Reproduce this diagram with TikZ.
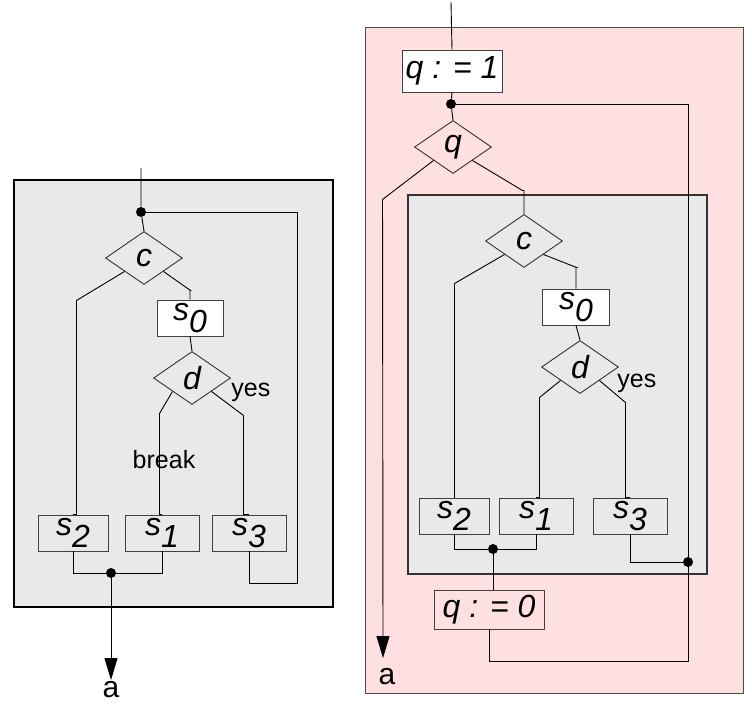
\documentclass[tikz,border=0pt]{standalone}
\usepackage{fontspec}
\setmainfont{Liberation Sans}
\usetikzlibrary{arrows.meta}
\usetikzlibrary{positioning}
\usetikzlibrary{shapes.geometric}

\definecolor{loopgray}{RGB}{233,233,233}
\definecolor{flagpink}{RGB}{255,224,224}

% statement name with its (lowered) index
\newcommand{\stmt}[2]{#1\raisebox{-0.38em}{#2}}

\begin{document}
\begin{tikzpicture}[x=1pt,y=-1pt,line width=0.9pt,>={Triangle[length=22pt,width=13pt]},
  box/.style={draw=black!75, minimum height=36pt, inner sep=0pt,
    font=\fontsize{32}{32}\selectfont\itshape},
  test/.style={draw=black!80, diamond, aspect=1.45, minimum width=77pt,
    minimum height=53pt, inner sep=0pt, font=\fontsize{32}{32}\selectfont\itshape},
  dot/.style={circle, fill, inner sep=0pt, minimum size=10pt},
  remark/.style={inner sep=0pt, font=\fontsize{25}{25}\selectfont}]
  \useasboundingbox (0,0) rectangle (752,704);

  % loop with break
  \filldraw[fill=loopgray, draw=black, line width=2.6pt] (14,180) rectangle (333,607);
  \coordinate (lin) at (141,168);
  \node[dot] (ldot) at (141,212) {};
  \node[test] (lc) at (144,258) {c};
  \node[box, fill=white, minimum width=66pt] (ls0) at (190,318) {\stmt{s}{0}};
  \node[test] (ld) at (192,378) {d};
  \node[remark, anchor=base west] (lyes) at (231,396) {yes};
  \node[remark, anchor=base] (lbreak) at (164,468) {break};
  \node[box, minimum width=70pt] (ls2) at (73,533) {\stmt{s}{2}};
  \node[box, minimum width=74pt] (ls1) at (162,533) {\stmt{s}{1}};
  \node[box, minimum width=74pt] (ls3) at (249,533) {\stmt{s}{3}};
  \node[dot] (ljoin) at (111,573) {};
  \coordinate (lback) at (297,583);
  \coordinate (la) at (111,680);
  \node[below=1pt of la, inner sep=0pt, font=\fontsize{30}{30}\selectfont] (lalabel) {a};

  \draw (lin) -- (ldot) -- (lc.north);
  \draw (lc.south west) -- ++(-48,29) |- (ls2.north);
  \draw (lc.south east) -- ++(27,19) -| (ls0.north);
  \draw (ls0.south) -- (ld.north);
  \draw (ld.south west) -- ++(-13,22) |- (ls1.north);
  \draw (ld.south east) -- ++(32,24) |- (ls3.north);
  \draw (ls2.south) |- (ljoin) -| (ls1.south);
  \draw[->] (ljoin) -- (la);
  \draw (ls3.south) |- (lback) |- (ldot);

  % the same loop with a flag q
  \filldraw[fill=flagpink, draw=black!70] (365,27) rectangle (743,693);
  \filldraw[fill=loopgray, draw=black!80, line width=1.4pt] (408,195) rectangle (707,574);
  \coordinate (rin) at (451,2);
  \node[box, fill=white, minimum width=100pt, minimum height=42pt] (rq1) at (452,71) {q : = 1};
  \node[dot] (rdot) at (451,104) {};
  \node[test] (rq) at (453,147) {q};
  \node[test] (rc) at (524,241) {c};
  \node[box, fill=white, minimum width=67pt] (rs0) at (576,307) {\stmt{s}{0}};
  \node[test] (rd) at (580,367) {d};
  \node[remark, anchor=base west] (ryes) at (617,387) {yes};
  \node[box, minimum width=70pt] (rs2) at (454,516) {\stmt{s}{2}};
  \node[box, minimum width=74pt] (rs1) at (536,516) {\stmt{s}{1}};
  \node[box, minimum width=74pt] (rs3) at (630,516) {\stmt{s}{3}};
  \node[dot] (rjoin) at (493,549) {};
  \node[dot] (rback) at (688,562) {};
  \node[box, minimum width=110pt, minimum height=39pt] (rq0) at (489,610) {q : = 0};
  \coordinate (rloop) at (688,661);
  \coordinate (ra) at (383,658);
  \node[below=10pt of ra, xshift=4pt, inner sep=0pt, font=\fontsize{30}{30}\selectfont] (ralabel) {a};

  \draw (rin) -- (rq1.north);
  \draw (rq1.south) -- (rdot) -- (rq.north);
  \draw[->] (rq.south west) -- ++(-51,39) -- (ra);
  \draw (rq.south east) -- ++(50,30) -| (rc.north);
  \draw (rc.south west) -- ++(-50,29) |- (rs2.north);
  \draw (rc.south east) -- ++(33,13) -| (rs0.north);
  \draw (rs0.south) -- (rd.north);
  \draw (rd.south west) -- ++(-21,17) |- (rs1.north);
  \draw (rd.south east) -- ++(26,22) |- (rs3.north);
  \draw (rs2.south) |- (rjoin) -| (rs1.south);
  \draw (rjoin) -- (rjoin |- rq0.north);
  \draw (rs3.south) |- (rback);
  \draw (rq0.south) |- (rloop) |- (rdot);
\end{tikzpicture}
\end{document}
